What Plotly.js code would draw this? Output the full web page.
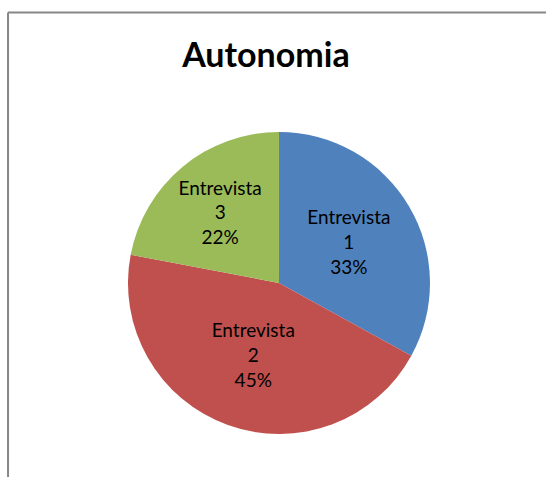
<!DOCTYPE html>
<html>
<head>
<meta charset="utf-8">
<script src="https://cdn.plot.ly/plotly-3.0.1.min.js"></script>
<style>html,body{margin:0;padding:0;background:#fff;}#chart{width:546px;height:477px;}</style>
</head>
<body>
<div id="chart"></div>
<script>
var categories = ["Entrevista 1", "Entrevista 2", "Entrevista 3"];
var labelText = ["Entrevista<br>1", "Entrevista<br>2", "Entrevista<br>3"];
var values = [33, 45, 22];
var colors = ["#4F81BD", "#C0504D", "#9BBB59"];
var titleText = "Autonomia";

var trace = {
  type: "pie",
  labels: categories,
  values: values,
  text: labelText,
  texttemplate: "%{text}<br>%{percent:.0%}",
  textposition: "inside",
  insidetextorientation: "horizontal",
  sort: false,
  direction: "clockwise",
  rotation: 0,
  marker: {colors: colors, line: {width: 0}},
  textfont: {family: "Lato, sans-serif", size: 19, color: "#000"},
  domain: {x: [0.2344, 0.7875], y: [0.0901, 0.7233]},
  hoverinfo: "none",
  showlegend: false
};

var layout = {
  width: 546, height: 477,
  margin: {l: 0, r: 0, t: 0, b: 0},
  paper_bgcolor: "#fff",
  title: {text: "<b>" + titleText + "</b>", font: {family: "Lato, sans-serif", size: 34, color: "#000"}, x: 0.487, xanchor: "center", y: 0.885, yanchor: "middle"},
  showlegend: false,
  shapes: [
    {type: "line", xref: "paper", yref: "paper", x0: 0.0147, x1: 1.01, y0: 0.9738, y1: 0.9738, line: {color: "#878787", width: 2}},
    {type: "line", xref: "paper", yref: "paper", x0: 0.0147, x1: 0.0147, y0: 0.9738, y1: -0.01, line: {color: "#878787", width: 2}}
  ]
};

Plotly.newPlot("chart", [trace], layout, {displayModeBar: false, staticPlot: true});
</script>
</body>
</html>
